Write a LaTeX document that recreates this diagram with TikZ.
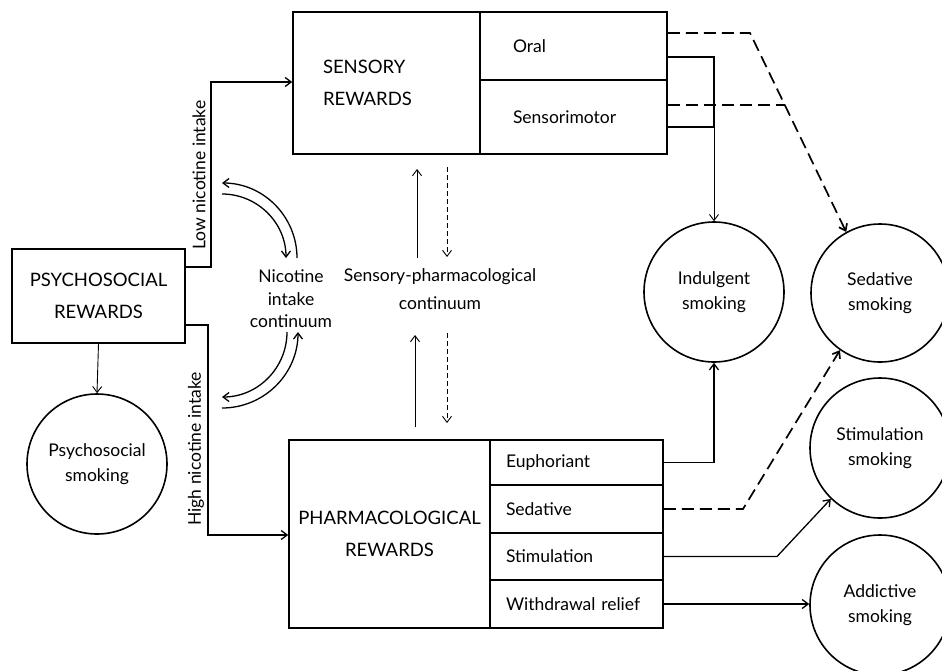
\documentclass[tikz,border=0pt]{standalone}
\usepackage{fontspec}
\setmainfont{Lato}
\usetikzlibrary{arrows.meta}
\begin{document}
\begin{tikzpicture}[x=1pt,y=-1pt,
  box/.style={draw, line width=1.6pt, rectangle, inner ysep=0pt},
  capsbox/.style={box, font=\fontsize{18.5}{32}\selectfont},
  rowbox/.style={box, font=\fontsize{17.5}{22}\selectfont, align=left},
  circ/.style={draw, line width=1.6pt, circle, minimum size=140pt, inner sep=0pt, align=center, font=\fontsize{17.5}{25}\selectfont},
  lbl/.style={inner sep=0pt, align=center, font=\fontsize{17.5}{22.5}\selectfont},
  conn/.style={line width=1.3pt},
  faint/.style={line width=0.9pt},
  heavydash/.style={line width=1.7pt, dash pattern=on 12pt off 6pt},
  arrowed/.style={-{Straight Barb[length=6pt,width=9pt]}},
]
\useasboundingbox (0,0) rectangle (942,670);

% Sensory rewards box
\node[capsbox, minimum width=187pt, minimum height=142pt, text width=127pt, inner xsep=30pt, align=left] (sens) at (386.5,83) {SENSORY\\REWARDS};
\node[rowbox, minimum width=187pt, minimum height=68pt, text width=121pt, inner xsep=33pt] (oral) at (573.5,46) {Oral};
\node[rowbox, minimum width=187pt, minimum height=74pt, text width=121pt, inner xsep=33pt] (smot) at (573.5,117) {Sensorimotor};

% Psychosocial rewards box
\node[capsbox, minimum width=173pt, minimum height=94pt, align=center] (psy) at (98.5,296) {PSYCHOSOCIAL\\REWARDS};

% Pharmacological rewards box
\node[capsbox, minimum width=201pt, minimum height=188pt, align=center] (pharm) at (389.5,534) {PHARMACOLOGICAL\\REWARDS};
\node[rowbox, minimum width=173pt, minimum height=45pt, text width=141pt, inner xsep=16pt] (euph) at (576.5,462.5) {Euphoriant};
\node[rowbox, minimum width=173pt, minimum height=48pt, text width=141pt, inner xsep=16pt] (sedr) at (576.5,509) {Sedative};
\node[rowbox, minimum width=173pt, minimum height=47pt, text width=141pt, inner xsep=16pt] (stimr) at (576.5,556.5) {Stimulation};
\node[rowbox, minimum width=173pt, minimum height=48pt, text width=141pt, inner xsep=16pt] (withr) at (576.5,604) {Withdrawal relief};

% Circles
\node[circ] (psys) at (97,464) {Psychosocial\\smoking};
\node[circ] (indul) at (714,292) {Indulgent\\smoking};
\node[circ, minimum size=138pt] (sedc) at (880,293) {Sedative\\smoking};
\node[circ] (stimc) at (880,448) {Stimulation\\smoking};
\node[circ] (addc) at (880,605) {Addictive\\smoking};

% Labels
\node[lbl] (nic) at (291,299) {Nicotine\\intake\\continuum};
\node[lbl, font=\fontsize{17.5}{28}\selectfont] (spc) at (440,289) {Sensory-pharmacological\\continuum};
\node[lbl, rotate=90] (lowlbl) at (199,175) {Low nicotine intake};
\node[lbl, rotate=90] (highlbl) at (196,449) {High nicotine intake};

% Low / high nicotine intake connectors
\draw[conn, arrowed] (psy.east |- 0,267) -| (211,82) -- (sens.west |- 0,82);
\draw[conn, arrowed] (psy.east |- 0,325) -| (208,535) -- (pharm.west |- 0,535);

% Psychosocial smoking
\draw[faint, arrowed] (psy.south) -- (psys.north);

% Nicotine intake continuum arcs
\coordinate (a1s) at (297,258); \coordinate (a1e) at (222,183);
\coordinate (a2s) at (222,194); \coordinate (a2e) at (286,258);
\coordinate (a3s) at (287,332); \coordinate (a3e) at (222,397);
\coordinate (a4s) at (222,408); \coordinate (a4e) at (298,332);
\draw[conn, arrowed] (a1s) .. controls (297,216.6) and (263.4,183) .. (a1e);
\draw[conn, arrowed] (a2s) .. controls (257.3,194) and (286,222.7) .. (a2e);
\draw[conn, arrowed] (a3s) .. controls (287,367.9) and (257.9,397) .. (a3e);
\draw[conn, arrowed] (a4s) .. controls (264,408) and (298,374) .. (a4e);

% Sensory-pharmacological continuum arrows
\coordinate (u1s) at (417,258); \coordinate (u1e) at (417,169);
\coordinate (d1s) at (447,167); \coordinate (d1e) at (447,257);
\coordinate (u2s) at (415,427); \coordinate (u2e) at (415,335);
\coordinate (d2s) at (447,333); \coordinate (d2e) at (447,423);
\draw[faint, arrowed] (u1s) -- (u1e);
\draw[faint, arrowed, dash pattern=on 5pt off 3pt] (d1s) -- (d1e);
\draw[faint, arrowed] (u2s) -- (u2e);
\draw[faint, arrowed, dash pattern=on 5pt off 3pt] (d2s) -- (d2e);

% Sensory rewards to smoking types
\draw[conn] (oral.east |- 0,57) -- (714,57) -- (714,127) -- (smot.east |- 0,127);
\draw[faint, arrowed] (714,127) -- (indul.north);
\draw[heavydash, arrowed] (oral.east |- 0,33) -- (750,33) -- (sedc.119);
\draw[heavydash] (smot.east |- 0,105) -- (785,105);

% Pharmacological rewards to smoking types
\draw[conn, arrowed] (euph.east) -| (indul.south);
\draw[heavydash, arrowed] (sedr.east) -- (743,509) -- (sedc.-125);
\draw[conn, arrowed] (stimr.east) -- (777,556.5) -- (stimc.-134);
\draw[conn, arrowed] (withr.east) -- (withr.east -| addc.west);
\end{tikzpicture}
\end{document}
